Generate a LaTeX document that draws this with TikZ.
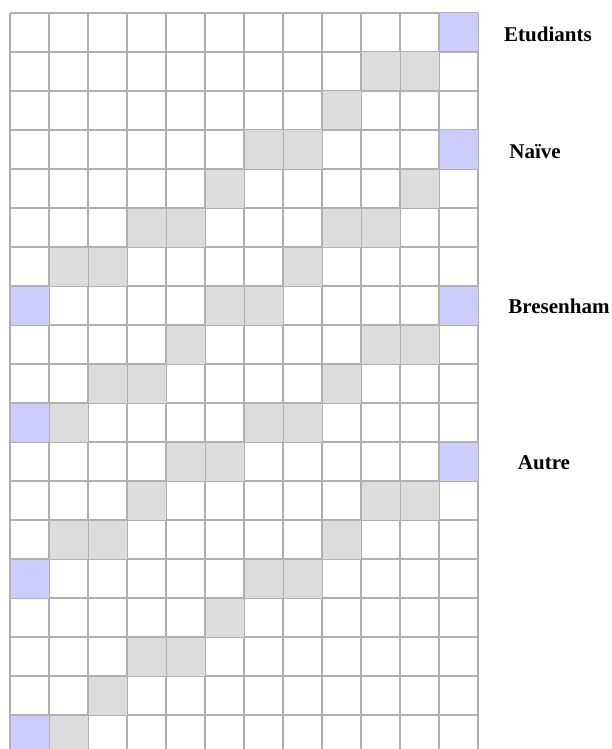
\documentclass[tikz,border=0pt]{standalone}
\usepackage{fontspec}
\setmainfont{Liberation Serif}
\definecolor{cellgray}{HTML}{DCDCDC}
\definecolor{cellblue}{HTML}{CCCCFF}
\definecolor{gridline}{HTML}{B0B0B0}
\begin{document}
\begin{tikzpicture}[x=1pt,y=-1pt,
  lab/.style={font=\bfseries\fontsize{21}{25}\selectfont,inner sep=0pt}]
\useasboundingbox (0,0) rectangle (612,749);
% grid of 12 x 19 pixels
\foreach \i in {0,...,12} \draw[gridline,line width=2.1pt] ({10+39*\i},13) -- ({10+39*\i},749);
\foreach \j in {0,...,18} \draw[gridline,line width=2.1pt] (10,{13+39*\j}) -- (478,{13+39*\j});
% pixels lit by the lines
\foreach \c/\r in {9/1,10/1,8/2,6/3,7/3,5/4,10/4,3/5,4/5,8/5,9/5,1/6,2/6,7/6,
  5/7,6/7,4/8,9/8,10/8,2/9,3/9,8/9,1/10,6/10,7/10,4/11,5/11,3/12,9/12,10/12,
  1/13,2/13,8/13,6/14,7/14,5/15,3/16,4/16,2/17,1/18}
  \fill[cellgray] ({10.5+39*\c},{13.5+39*\r}) rectangle +(38,38);
% end points
\foreach \c/\r in {11/0,11/3,0/7,11/7,0/10,11/11,0/14,0/18}
  \fill[cellblue] ({10.5+39*\c},{13.5+39*\r}) rectangle +(38,38);
% method names
\node[lab] (etud) at (548,34) {Etudiants};
\node[lab] (naive) at (535,152) {Naïve};
\node[lab] (bres) at (559,306) {Bresenham};
\node[lab] (autre) at (544,463) {Autre};
\end{tikzpicture}
\end{document}
